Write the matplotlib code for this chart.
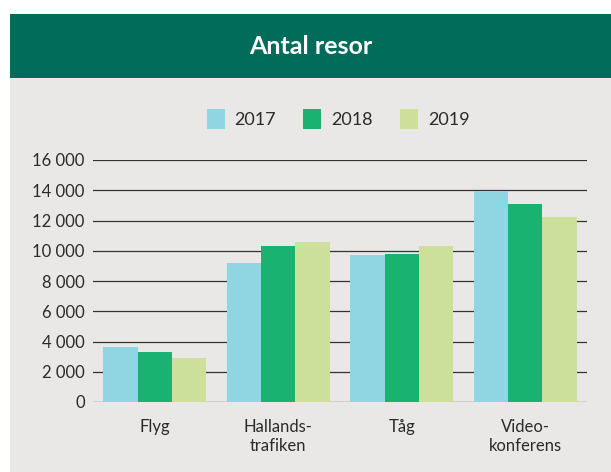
import matplotlib.pyplot as plt
import numpy as np
from matplotlib.patches import Rectangle

##########
########## Data
##########

kategorier = ["Flyg", "Hallands-\ntrafiken", "Tåg", "Video-\nkonferens"]
ar = ["2017", "2018", "2019"]
resor_2017 = [3650, 9200, 9700, 13950]
resor_2018 = [3300, 10300, 9800, 13100]
resor_2019 = [2900, 10600, 10300, 12250]
y_ticks = [0, 2000, 4000, 6000, 8000, 10000, 12000, 14000, 16000]
y_labels = ["0", "2 000", "4 000", "6 000", "8 000", "10 000", "12 000", "14 000", "16 000"]

farger = ["#90d6e2", "#1ab271", "#cde09b"]
bakgrund = "#e9e8e6"
rubrik_farg = "#006c59"
textfarg = "#2b2b2b"

plt.rcParams['font.family'] = ['Lato', 'DejaVu Sans']

##########
########## Figur
##########

fig = plt.figure(figsize=(6.11, 4.72), dpi=100)
fig.patch.set_facecolor("white")

# grå panel och grön rubrikrad
fig.patches.append(Rectangle((10/611, 0), 1, 1 - 78/472, transform=fig.transFigure,
                             facecolor=bakgrund, edgecolor="none", zorder=-5))
fig.patches.append(Rectangle((10/611, 1 - 78/472), 1, 64/472, transform=fig.transFigure,
                             facecolor=rubrik_farg, edgecolor="none", zorder=-5))
fig.text((10 + 611) / 2 / 611, 1 - 46/472, "Antal resor", color="white",
         fontsize=18, fontweight="bold", ha="center", va="center")

ax = fig.add_axes([93/611, 1 - 402/472, 494/611, 242/472])
ax.set_facecolor("none")
ax.set_zorder(2)

x = np.arange(len(kategorier))
w = 0.277
serier = [resor_2017, resor_2018, resor_2019]
for i, s in enumerate(serier):
    ax.bar(x + (i - 1) * w, s, width=w, color=farger[i], label=ar[i], zorder=3, linewidth=0)

ax.set_xlim(-0.5, 3.5)
ax.set_ylim(0, 16000)
ax.set_yticks(y_ticks)
ax.set_yticklabels(y_labels)
ax.set_xticks(x)
ax.set_xticklabels(kategorier, linespacing=1.25)
for t in y_ticks:
    ax.axhline(t, color="#333333", linewidth=0.9, zorder=1)

ax.tick_params(axis="y", length=0, pad=6, labelsize=12, labelcolor=textfarg)
ax.tick_params(axis="x", length=0, pad=12, labelsize=12, labelcolor=textfarg)
for sp in ax.spines.values():
    sp.set_visible(False)

leg = fig.legend(loc="center", bbox_to_anchor=(338/611, 1 - 119/472), ncol=3, frameon=False,
                 fontsize=13, handlelength=1.0, handleheight=1.25, handletextpad=0.55,
                 columnspacing=1.5, labelcolor=textfarg)

fig.savefig("out.png", dpi=100, facecolor=fig.get_facecolor())
